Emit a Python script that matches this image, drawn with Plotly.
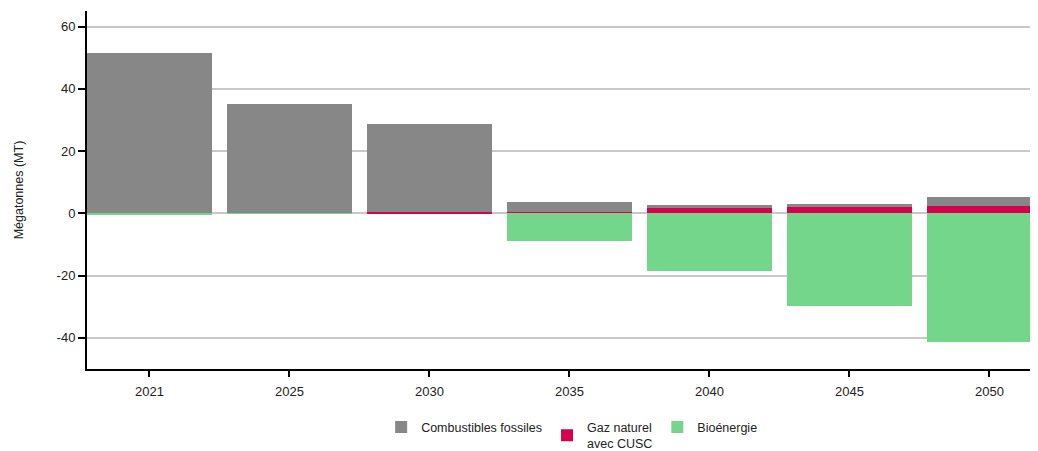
import plotly.graph_objects as go

years = ["2021", "2025", "2030", "2035", "2040", "2045", "2050"]
gaz_cusc = [0.0, 0.0, 0.5, 0.4, 1.7, 1.9, 2.5]
fossiles = [51.6, 35.2, 28.3, 3.1, 1.1, 1.1, 2.9]
bioenergie = [-0.3, -0.2, 0.0, -8.8, -18.5, -29.8, -41.3]
y_ticks = [-40, -20, 0, 20, 40, 60]
y_ticktext = ["-40", "-20", "0", "20", "40", "60"]

x_idx = list(range(len(years)))
FONT = "Liberation Sans, Arial, sans-serif"

fig = go.Figure()
# gaz first so it sits at the bottom of the positive stack
fig.add_trace(go.Bar(x=x_idx, y=gaz_cusc, name="Gaz naturel<br>avec CUSC", legendrank=2,
                     marker=dict(color="#d6004f", line=dict(width=0)), width=0.893))
fig.add_trace(go.Bar(x=x_idx, y=fossiles, name="Combustibles fossiles", legendrank=1,
                     marker=dict(color="#878787", line=dict(width=0)), width=0.893))
fig.add_trace(go.Bar(x=x_idx, y=bioenergie, name="Bioénergie", legendrank=3,
                     marker=dict(color="#74d68a", line=dict(width=0)), width=0.893))

fig.update_layout(
    barmode="relative",
    width=1022, height=443,
    margin=dict(l=79, r=0, t=3, b=82, autoexpand=False),
    paper_bgcolor="white", plot_bgcolor="white",
    font=dict(family=FONT, size=13, color="#222222"),
    showlegend=True,
    legend=dict(orientation="h", x=0.552, xref="container", xanchor="center",
                y=0.087, yref="container", yanchor="top", valign="middle",
                traceorder="normal", font=dict(size=12.5), itemwidth=30,
                tracegroupgap=0, bgcolor="rgba(0,0,0,0)"),
    xaxis=dict(
        range=[-0.446, 6.29], tickmode="array", tickvals=x_idx, ticktext=years,
        showgrid=False, zeroline=False, showline=True, linecolor="black", linewidth=2,
        ticks="outside", ticklen=6, tickcolor="black", tickwidth=2,
        tickfont=dict(size=13), ticklabelstandoff=3, automargin=False,
    ),
    yaxis=dict(
        range=[-50, 65], tickmode="array", tickvals=y_ticks, ticktext=y_ticktext,
        showgrid=True, gridcolor="#c8c8c8", gridwidth=2,
        zeroline=False, showline=True, linecolor="black", linewidth=2,
        ticks="outside", ticklen=7, tickcolor="black", tickwidth=2,
        tickfont=dict(size=13), automargin=False,
        title=dict(text="Mégatonnes (MT)", font=dict(size=12.5), standoff=30),
    ),
    bargap=0,
)

fig.write_html("out.html")
